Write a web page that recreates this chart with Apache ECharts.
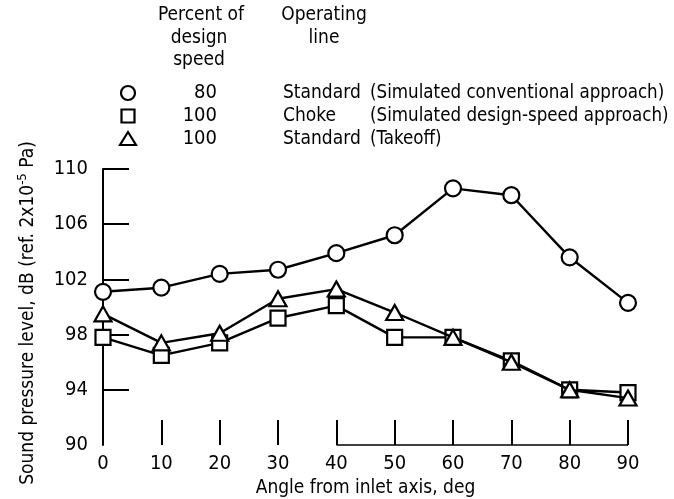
<!DOCTYPE html>
<html>
<head>
<meta charset="utf-8">
<script src="https://cdn.jsdelivr.net/npm/echarts@6/dist/echarts.min.js"></script>
<style>
  html, body { margin: 0; padding: 0; background: #fff; }
  #chart { width: 674px; height: 499px; }
</style>
</head>
<body>
<div id="chart"></div>
<script>
// Angle from inlet axis, deg
const angles = [0, 10, 20, 30, 40, 50, 60, 70, 80, 90];
// 80 % speed, standard operating line (simulated conventional approach)
const spl80Standard = [101.1, 101.4, 102.4, 102.7, 103.9, 105.2, 108.6, 108.1, 103.6, 100.3];
// 100 % speed, choke operating line (simulated design-speed approach)
const spl100Choke = [97.8, 96.5, 97.4, 99.2, 100.1, 97.8, 97.8, 96.1, 94.0, 93.8];
// 100 % speed, standard operating line (takeoff)
const spl100Standard = [99.5, 97.4, 98.1, 100.6, 101.3, 99.6, 97.8, 96.0, 94.0, 93.4];
// Axis tick values
const xTicks = [10, 20, 30, 40, 50, 60, 70, 80, 90];
const yTicks = [94, 98, 102, 106, 110];

const FONT = '"DejaVu Sans Condensed", sans-serif';
const NUM_FONT = '"Liberation Sans Narrow", "DejaVu Sans Condensed", sans-serif';
const LEG_FS = 19;
const TICK_FS = 20;
const INK = '#000';

const chart = echarts.init(document.getElementById('chart'), null, { renderer: 'canvas' });

function pairs(vals) { return angles.map((a, i) => [a, vals[i]]); }

function lineSeries(name, vals, symbol, size, z) {
  return {
    name, type: 'line', data: pairs(vals), symbol, symbolSize: size, z,
    lineStyle: { color: INK, width: 2.4 },
    itemStyle: { color: '#fff', borderColor: INK, borderWidth: 2.2 },
    emphasis: { disabled: true }, animation: false
  };
}

const txt = (x, y, text, align, font) => ({
  type: 'text', x, y,
  style: { text, font: font || (LEG_FS + 'px ' + FONT), fill: INK, align: align || 'left', verticalAlign: 'middle' }
});

const legendRows = [
  { sym: 'circle', pct: '80', line: 'Standard', note: '(Simulated conventional approach)' },
  { sym: 'rect', pct: '100', line: 'Choke', note: '(Simulated design-speed approach)' },
  { sym: 'triangle', pct: '100', line: 'Standard', note: '(Takeoff)' }
];

// Key table: column headings
const graphics = [
  txt(201, 15, 'Percent of', 'center'),
  txt(199, 38, 'design', 'center'),
  txt(199, 60, 'speed', 'center'),
  txt(324, 15, 'Operating', 'center'),
  txt(324, 38, 'line', 'center')
];
// Key table: one row per test condition
legendRows.forEach((r, i) => {
  const y = 93 + i * 23;
  const x = 128;
  const st = { fill: '#fff', stroke: INK, lineWidth: 2.2 };
  if (r.sym === 'circle') {
    graphics.push({ type: 'circle', shape: { cx: x, cy: y, r: 7 }, style: st });
  } else if (r.sym === 'rect') {
    graphics.push({ type: 'rect', shape: { x: x - 6.5, y: y - 6.5, width: 13, height: 13 }, style: st });
  } else {
    graphics.push({ type: 'polygon', shape: { points: [[x, y - 7], [x + 8, y + 6], [x - 8, y + 6]] }, style: st });
  }
  graphics.push(txt(217, y, r.pct, 'right', TICK_FS + 'px ' + NUM_FONT));
  graphics.push(txt(283, y, r.line));
  graphics.push(txt(370, y, r.note, 'left', '18.6px ' + FONT));
});
// Y-axis title, rotated, with superscript exponent
graphics.push({
  type: 'text', x: 27, y: 313, rotation: Math.PI / 2,
  style: {
    text: '{a|Sound pressure level, dB (ref. 2x10}{s|-5}{a| Pa)}',
    align: 'center', verticalAlign: 'middle',
    rich: {
      a: { font: LEG_FS + 'px ' + FONT, fill: INK, verticalAlign: 'bottom', lineHeight: 22 },
      s: { font: '13px ' + FONT, fill: INK, verticalAlign: 'top', lineHeight: 22 }
    }
  }
});

const option = {
  backgroundColor: '#fff',
  animation: false,
  grid: { left: 103, right: 46, top: 169, bottom: 54, outerBoundsMode: 'none', containLabel: false },
  xAxis: {
    type: 'value', min: 0, max: 90, interval: 10,
    name: 'Angle from inlet axis, deg', nameLocation: 'middle', nameGap: 31,
    nameTextStyle: { fontFamily: FONT, fontSize: 19, color: INK },
    axisLine: { show: false },
    axisTick: { show: true, inside: true, length: 25, customValues: xTicks, lineStyle: { color: INK, width: 2 } },
    axisLabel: { fontFamily: NUM_FONT, fontSize: TICK_FS, color: INK, margin: 9 },
    splitLine: { show: false }
  },
  yAxis: {
    type: 'value', min: 90, max: 110, interval: 4,
    axisLine: { show: true, lineStyle: { color: INK, width: 2 } },
    axisTick: { show: true, inside: true, length: 26, customValues: yTicks, lineStyle: { color: INK, width: 2 } },
    axisLabel: { fontFamily: NUM_FONT, fontSize: TICK_FS, color: INK, margin: 15 },
    splitLine: { show: false }
  },
  graphic: graphics,
  series: [
    lineSeries('80 Standard', spl80Standard, 'circle', 16, 3),
    Object.assign(lineSeries('100 Choke', spl100Choke, 'rect', 15, 2), {
      // partial baseline along the bottom of the plot
      markLine: {
        silent: true, symbol: 'none', label: { show: false },
        lineStyle: { color: INK, width: 1.5, type: 'solid' },
        data: [[{ coord: [40, 90] }, { coord: [90, 90] }]]
      }
    }),
    lineSeries('100 Standard', spl100Standard, 'triangle', [17, 15], 4)
  ]
};
chart.setOption(option);
</script>
</body>
</html>
